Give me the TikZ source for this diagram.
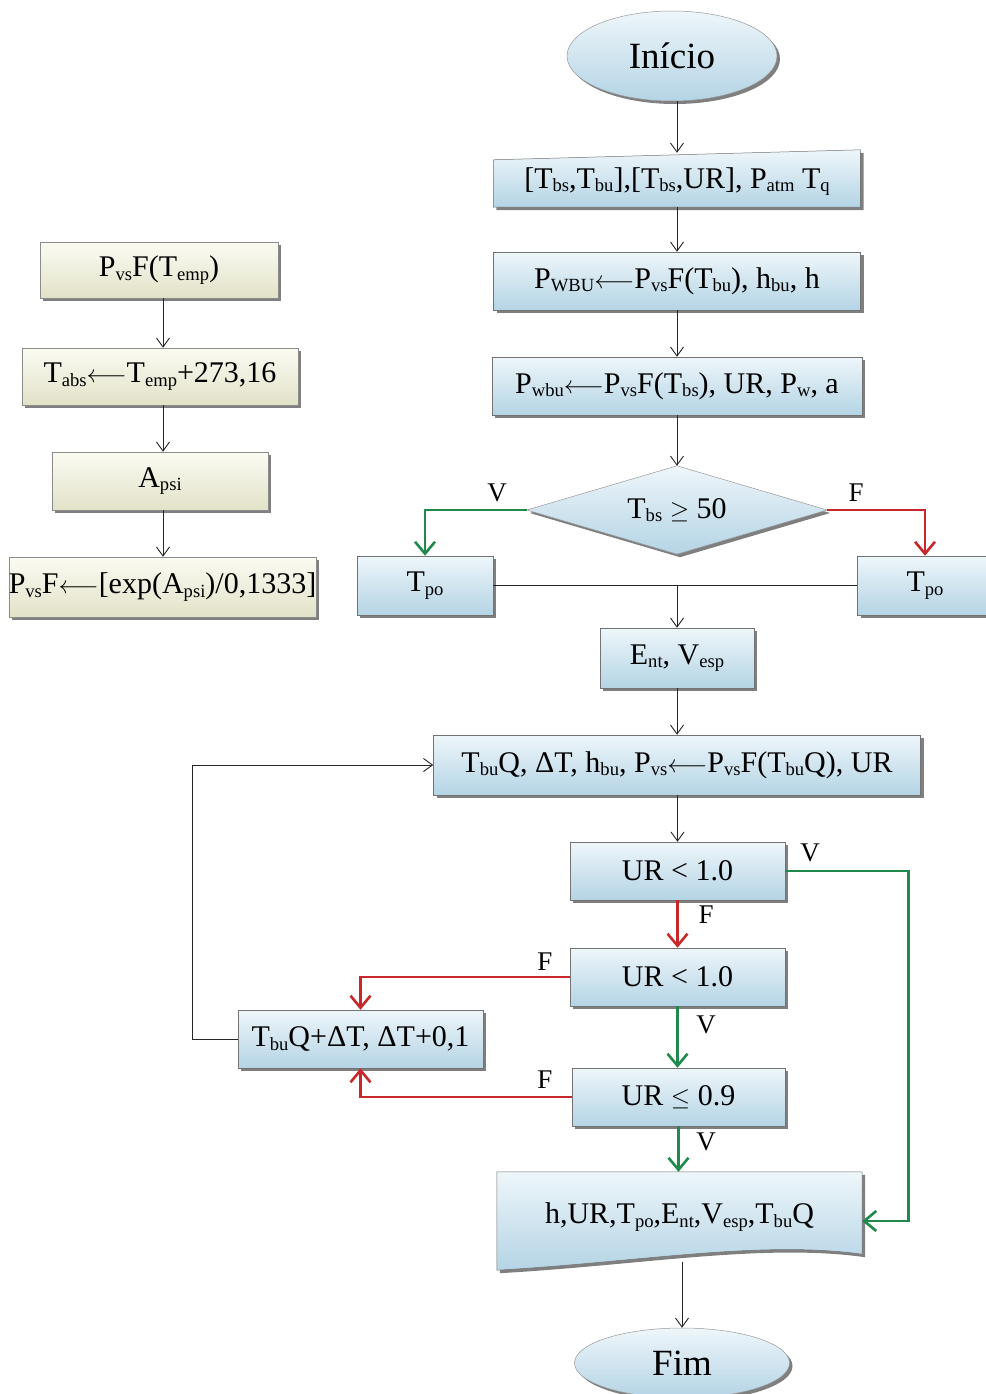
\documentclass[tikz,border=0pt]{standalone}
\usepackage{graphicx}
\usepackage{fontspec}
\setmainfont{Liberation Serif}
\usetikzlibrary{arrows.meta,shadows,shapes.geometric}
\newcommand\sbs[1]{\raisebox{-0.12em}{\scalebox{0.62}{#1}}}
\newcommand\larr{$\longleftarrow$}
\definecolor{blueT}{HTML}{EEF6FA}
\definecolor{blueB}{HTML}{B4D4E5}
\definecolor{creamT}{HTML}{FBFBF3}
\definecolor{creamB}{HTML}{E2E2C8}
\definecolor{okgreen}{HTML}{1F8A4C}
\definecolor{nored}{HTML}{C8282C}
\tikzset{
  shadowed/.style={drop shadow={shadow xshift=3pt,shadow yshift=-3pt,fill=black,opacity=0.5}},
  txt/.style={font=\fontsize{30}{33}\selectfont},
  bluebox/.style={rectangle,draw=black!55,line width=0.5pt,top color=blueT,bottom color=blueB,
    shadowed,inner sep=0pt,txt},
  creambox/.style={rectangle,draw=black!45,line width=0.5pt,top color=creamT,bottom color=creamB,
    shadowed,inner sep=0pt,txt},
  ghost/.style={rectangle,inner sep=0pt,txt},
  term/.style={ellipse,draw=black!40,line width=0.5pt,top color=blueT,bottom color=blueB,
    shadowed,inner sep=0pt,font=\fontsize{37}{40}\selectfont},
  arr/.style={draw=black!85,line width=0.9pt,-{Straight Barb[length=9pt,width=13pt,line width=0.9pt]}},
  plain/.style={draw=black!85,line width=0.9pt},
  garr/.style={draw=okgreen,line width=2.6pt,-{Straight Barb[length=12pt,width=20pt,line width=2.6pt]}},
  rarr/.style={draw=nored,line width=2.6pt,-{Straight Barb[length=12pt,width=20pt,line width=2.6pt]}},
  lab/.style={font=\fontsize{27}{30}\selectfont,inner sep=0pt},
}
\begin{document}
\begin{tikzpicture}[x=1pt,y=-1pt]
\path[use as bounding box,fill=white] (0,0) rectangle (985,1394);

% ---- left column: PvsF function ----
\node[creambox,minimum width=238pt,minimum height=56pt] (pv) at (159,270) {P\sbs{vs}F(T\sbs{emp})};
\node[creambox,minimum width=276pt,minimum height=57pt] (tabs) at (160,376.5) {T\sbs{abs}\larr T\sbs{emp}+273,16};
\node[creambox,minimum width=216pt,minimum height=58pt] (apsi) at (160,481) {A\sbs{psi}};
\node[creambox,minimum width=305pt,minimum height=60pt] (pvf) at (162.5,587) {P\sbs{vs}F\larr[exp(A\sbs{psi})/0,1333]};
\draw[arr] (pv.south -| 163,0) -- (tabs.north -| 163,0);
\draw[arr] (tabs.south -| 163,0) -- (apsi.north -| 163,0);
\draw[arr] (apsi.south -| 163,0) -- (pvf.north -| 163,0);

% ---- main column ----
\node[term,minimum width=210pt,minimum height=90pt] (ini) at (672,56) {Início};

% manual input box with slanted top
\node[ghost,minimum width=367pt,minimum height=57pt] (inp) at (677,178.5) {};
\path[draw=black!55,line width=0.5pt,top color=blueT,bottom color=blueB,shadowed]
  (inp.south west) -- ([yshift=-10pt]inp.north west) -- (inp.north east) -- (inp.south east) -- cycle;
\node[ghost] at ([yshift=-3pt]inp.center) {[T\sbs{bs},T\sbs{bu}],[T\sbs{bs},UR], P\sbs{atm} T\sbs{q}};

\node[bluebox,minimum width=367pt,minimum height=58pt] (b2) at (677,281) {P\sbs{WBU}\larr P\sbs{vs}F(T\sbs{bu}), h\sbs{bu}, h};
\node[bluebox,minimum width=370pt,minimum height=58pt] (b3) at (677,386) {P\sbs{wbu}\larr P\sbs{vs}F(T\sbs{bs}), UR, P\sbs{w}, a};

% decision diamond
\node[ghost,minimum width=300pt,minimum height=88pt] (d) at (677,510) {};
\path[draw=black!40,line width=0.5pt,top color=blueT,bottom color=blueB,shadowed]
  (d.west) -- (d.north) -- (d.east) -- (d.south) -- cycle;
\node[ghost] at (d.center) {T\sbs{bs} $\geq$ 50};

\node[bluebox,minimum width=136pt,minimum height=59pt] (tpoL) at (425,585.5) {T\sbs{po}};
\node[bluebox,minimum width=135pt,minimum height=59pt] (tpoR) at (925,585.5) {T\sbs{po}};
\node[bluebox,minimum width=154pt,minimum height=60pt] (ent) at (677,658) {E\sbs{nt}, V\sbs{esp}};
\node[bluebox,minimum width=487pt,minimum height=60pt] (big) at (677,765) {T\sbs{bu}Q, ΔT, h\sbs{bu},\ P\sbs{vs}\larr P\sbs{vs}F(T\sbs{bu}Q), UR};
\node[bluebox,minimum width=215pt,minimum height=58pt] (ur1) at (677.5,871) {UR < 1.0};
\node[bluebox,minimum width=215pt,minimum height=58pt] (ur2) at (677.5,977) {UR < 1.0};
\node[bluebox,minimum width=245pt,minimum height=58pt] (loop) at (360.5,1039) {T\sbs{bu}Q+ΔT, ΔT+0,1};
\node[bluebox,minimum width=213pt,minimum height=58pt] (ur3) at (678.5,1097) {UR $\leq$ 0.9};

% output document with wavy bottom
\node[ghost,minimum width=365pt,minimum height=98pt] (out) at (679.5,1221) {};
\path[draw=black!55,line width=0.5pt,top color=blueT,bottom color=blueB,shadowed]
  (out.north west) -- (out.north east) -- ([yshift=16pt]out.south east)
  .. controls (760,1240) and (640,1262) .. (out.south west) -- cycle;
\node[ghost] at ([yshift=4pt]out.center) {h,UR,T\sbs{po},E\sbs{nt},V\sbs{esp},T\sbs{bu}Q};

\node[term,minimum width=215pt,minimum height=70pt] (fim) at (682,1363) {Fim};

% ---- connectors ----
\draw[arr] (ini.south -| inp.north) -- ([yshift=-3pt]inp.north);
\draw[arr] (inp.south) -- (b2.north);
\draw[arr] (b2.south) -- (b3.north);
\draw[arr] (b3.south) -- (d.north);
\draw[garr] (d.west) -| (tpoL.north);
\draw[rarr] (d.east) -| (tpoR.north);
\node[lab] at (497,493) {V};
\node[lab] at (856,493) {F};
\draw[plain] (tpoL.east) -- (tpoR.west);
\coordinate (join) at (tpoL.east -| ent.north);
\draw[arr] (join) -- (ent.north);
\draw[arr] (ent.south) -- (big.north);
\draw[arr] (big.south -| ur1.north) -- (ur1.north);
\draw[garr] (ur1.east) -- ++(123,0) |- (out.east);
\node[lab] at (810,853) {V};
\draw[rarr] (ur1.south) -- (ur2.north);
\node[lab] at (706,915) {F};
\draw[rarr] (ur2.west) -| (loop.north);
\node[lab] at (545,962) {F};
\draw[garr] (ur2.south) -- (ur2.south |- ur3.north);
\node[lab] at (706,1025) {V};
\draw[rarr] (ur3.west) -| (loop.south);
\node[lab] at (545,1080) {F};
\draw[garr] (ur3.south) -- (ur3.south |- out.north);
\node[lab] at (706,1142) {V};
\draw[plain,-{Straight Barb[length=9pt,width=13pt,line width=0.9pt]}] (loop.west) -- ++(-45,0) |- (big.west);
\draw[arr] ([yshift=8pt]out.south -| fim.north) -- (fim.north);
\end{tikzpicture}
\end{document}
